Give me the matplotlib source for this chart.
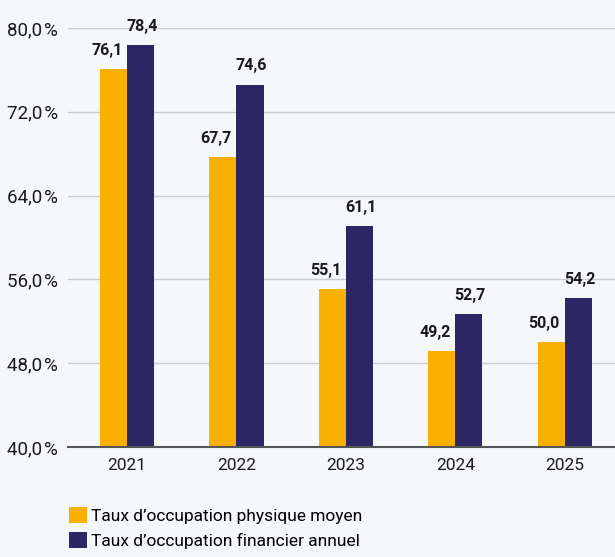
import matplotlib
matplotlib.use("Agg")
import matplotlib.pyplot as plt
import numpy as np

years = ["2021", "2022", "2023", "2024", "2025"]
physique = [76.1, 67.7, 55.1, 49.2, 50.0]
financier = [78.4, 74.6, 61.1, 52.7, 54.2]
yticks = [40, 48, 56, 64, 72, 80]
labels = ["Taux d\u2019occupation physique moyen", "Taux d\u2019occupation financier annuel"]

orange = "#F9B000"
navy = "#2D2664"
bg = "#F5F7FA"

plt.rcParams['font.family'] = ['Roboto', 'DejaVu Sans']

fig = plt.figure(figsize=(6.15, 5.57), dpi=100, facecolor=bg)
ax = fig.add_axes([0.1106, 0.1975, 0.8894, 0.7522])
ax.set_facecolor(bg)

x = np.arange(len(years))
w = 0.247
b1 = ax.bar(x - w/2, [v - 40 for v in physique], w, bottom=40, color=orange, label=labels[0], zorder=3)
b2 = ax.bar(x + w/2, [v - 40 for v in financier], w, bottom=40, color=navy, label=labels[1], zorder=3)

for xi, v in zip(x - w/2, physique):
    ax.annotate(f"{v:.1f}".replace(".", ","), (xi, v), xytext=(-5, 8), textcoords="offset points",
                ha="center", va="bottom", fontsize=11.5, fontweight="bold", color="#1a1a1a")
for xi, v in zip(x + w/2, financier):
    ax.annotate(f"{v:.1f}".replace(".", ","), (xi, v), xytext=(1, 8), textcoords="offset points",
                ha="center", va="bottom", fontsize=11.5, fontweight="bold", color="#1a1a1a")

ax.set_ylim(40, 80)
ax.set_xlim(-0.54, 4.46)
ax.set_yticks(yticks)
ax.set_yticklabels([f"{t},0\u200a%" for t in yticks], fontsize=13.5, color="#1a1a1a")
ax.set_xticks(x)
ax.set_xticklabels(years, fontsize=12.5, color="#1a1a1a")
ax.tick_params(axis="both", length=0)
ax.tick_params(axis="y", pad=7)
ax.tick_params(axis="x", pad=8)
for lab in ax.get_yticklabels():
    lab.set_verticalalignment("center_baseline")
ax.grid(axis="y", color="#C9CCD4", linewidth=1, zorder=0)
for s in ["top", "right", "left"]:
    ax.spines[s].set_visible(False)
ax.spines["bottom"].set_color("#555555")
ax.spines["bottom"].set_linewidth(1.5)
ax.spines["bottom"].set_zorder(4)

fig.legend(handles=[b1, b2], labels=labels, loc="upper left", bbox_to_anchor=(0.112, 0.09),
           frameon=False, fontsize=12.5, handlelength=1.05, handleheight=1.05, handletextpad=0.25,
           labelspacing=0.45, borderaxespad=0, borderpad=0)

fig.savefig("out.png", dpi=100, facecolor=bg)
